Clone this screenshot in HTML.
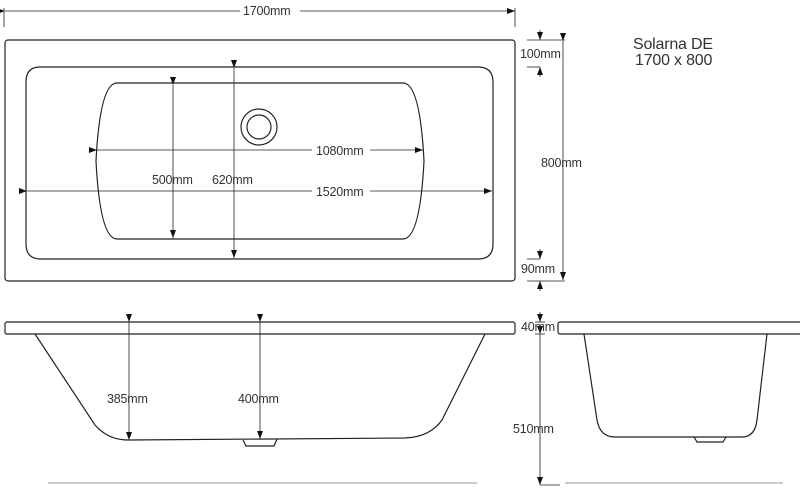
<!DOCTYPE html>
<html><head><style>
body{margin:0;background:#fff}
svg{display:block}
text{font-family:"Liberation Sans",sans-serif;font-size:12.5px;fill:#333;letter-spacing:-0.2px}
</style></head><body>
<svg width="800" height="496" viewBox="0 0 800 496" xmlns="http://www.w3.org/2000/svg">
<defs>
<marker id="a" markerWidth="8" markerHeight="6" refX="8" refY="3" orient="auto" markerUnits="userSpaceOnUse"><path d="M0,0 L8,3 L0,6 z" fill="#111"/></marker>
</defs>
<g fill="none" stroke="#222" stroke-width="1.2">
<rect x="5" y="40" width="510" height="241" rx="3"/>
<path d="M40,67 H478 Q493,67 493,82 V244 Q493,259 478,259 H41 Q26,259 26,244 V82 Q26,67 40,67 Z"/>
<path d="M117,83 H403 Q420,83 424,161 Q420,239 403,239 H117 Q100,239 96,161 Q100,83 117,83 Z"/>
<circle cx="259" cy="127" r="18"/>
<circle cx="259" cy="127" r="12"/>
<rect x="5" y="322" width="510" height="12" rx="2"/>
<path d="M35,334 L95,425 Q108,440 128,440 L405,438 Q430,437 442,420 L485,334"/>
<path d="M243,440 L246,446 H274 L277,439"/>
<rect x="558" y="322" width="245" height="12" rx="2"/>
<path d="M584,334 L597,420 Q600,437 615,437 H742 Q755,437 757,420 L767,334"/>
<path d="M694,437 L697,442 H723 L726,437"/>
</g>
<g stroke="#222" stroke-width="0.8" fill="none">
<line x1="5" y1="11" x2="240" y2="11" marker-start="url(#a)"/>
<line x1="300" y1="11" x2="515" y2="11" marker-end="url(#a)"/>
<line x1="4" y1="8" x2="4" y2="27"/><line x1="515" y1="8" x2="515" y2="27"/>
<line x1="97" y1="150" x2="312" y2="150" marker-start="url(#a)"/>
<line x1="370" y1="150" x2="423" y2="150" marker-end="url(#a)"/>
<line x1="27" y1="191" x2="312" y2="191" marker-start="url(#a)"/>
<line x1="370" y1="191" x2="492" y2="191" marker-end="url(#a)"/>
<line x1="173" y1="85" x2="173" y2="238" marker-start="url(#a)" marker-end="url(#a)"/>
<line x1="234" y1="68" x2="234" y2="258" marker-start="url(#a)" marker-end="url(#a)"/>
<line x1="563" y1="41" x2="563" y2="280" marker-start="url(#a)" marker-end="url(#a)"/>
<line x1="527" y1="40" x2="565" y2="40"/><line x1="527" y1="281" x2="565" y2="281"/>
<line x1="527" y1="67" x2="540" y2="67"/><line x1="527" y1="259" x2="540" y2="259"/>
<line x1="540" y1="30" x2="540" y2="40" marker-end="url(#a)"/>
<line x1="540" y1="77" x2="540" y2="67" marker-end="url(#a)"/>
<line x1="540" y1="249" x2="540" y2="259" marker-end="url(#a)"/>
<line x1="540" y1="291" x2="540" y2="281" marker-end="url(#a)"/>
<line x1="129" y1="322" x2="129" y2="440" marker-start="url(#a)" marker-end="url(#a)"/>
<line x1="260" y1="322" x2="260" y2="439" marker-start="url(#a)" marker-end="url(#a)"/>
<line x1="540" y1="312" x2="540" y2="322" marker-end="url(#a)"/>
<line x1="535" y1="322" x2="545" y2="322"/>
<line x1="540" y1="334" x2="540" y2="485" marker-start="url(#a)" marker-end="url(#a)"/>
<line x1="535" y1="334" x2="545" y2="334"/>
<line x1="540" y1="485" x2="560" y2="485"/>
</g>
<line x1="48" y1="483" x2="477" y2="483" stroke="#ccc" stroke-width="2"/>
<line x1="565" y1="483" x2="783" y2="483" stroke="#ccc" stroke-width="2"/>
<text x="243" y="15">1700mm</text>
<text x="316" y="155">1080mm</text>
<text x="316" y="196">1520mm</text>
<text x="152" y="184">500mm</text>
<text x="212" y="184">620mm</text>
<text x="520" y="58">100mm</text>
<text x="541" y="167">800mm</text>
<text x="521" y="273">90mm</text>
<text x="107" y="403">385mm</text>
<text x="238" y="403">400mm</text>
<text x="521" y="331">40mm</text>
<text x="513" y="433">510mm</text>
<text x="633" y="49" style="font-size:16px">Solarna DE</text>
<text x="635" y="65" style="font-size:16px">1700 x 800</text>
</svg>
</body></html>
